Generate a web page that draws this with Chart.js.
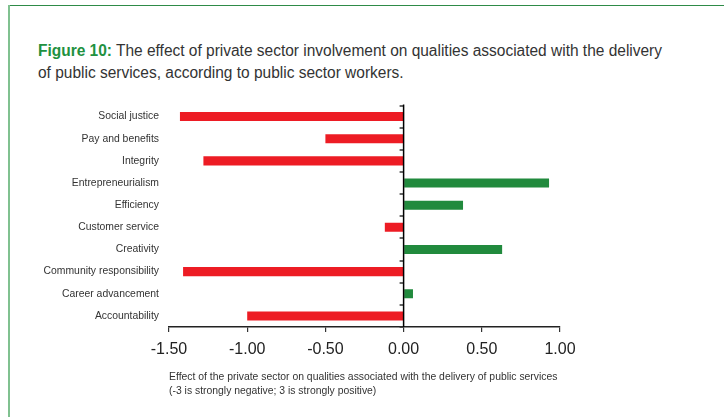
<!DOCTYPE html>
<html>
<head>
<meta charset="utf-8">
<script src="https://cdn.jsdelivr.net/npm/chart.js@4.4.1/dist/chart.umd.min.js"></script>
<style>
  html, body { margin: 0; padding: 0; background: #fff; }
  #wrap { position: relative; width: 724px; height: 417px; overflow: hidden; background: #fff; }
  #topline { position: absolute; left: 8px; top: 5px; width: 716px; height: 1px; background: #2e8b47; }
  #leftline { position: absolute; left: 8px; top: 5px; width: 2px; height: 412px; background: #80c190; }
  #title { position: absolute; left: 38px; top: 40px; font-family: "Liberation Sans", sans-serif; font-size: 16px; line-height: 22px; color: #333; white-space: nowrap; transform-origin: 0 0; }
  #title b { color: #21913f; font-weight: bold; }
  canvas { position: absolute; left: 0; top: 0; }
</style>
</head>
<body>
<div id="wrap">
  <div id="topline"></div>
  <div id="leftline"></div>
  <div id="title"><span id="t1"><b>Figure 10:</b> The effect of private sector involvement on qualities associated with the delivery</span><br>of public services, according to public sector workers.</div>
  <canvas id="c" width="724" height="417"></canvas>
</div>
<script>
const categories = ["Social justice", "Pay and benefits", "Integrity", "Entrepreneurialism", "Efficiency", "Customer service", "Creativity", "Community responsibility", "Career advancement", "Accountability"];
const values = [-1.43, -0.50, -1.28, 0.93, 0.38, -0.12, 0.63, -1.41, 0.06, -1.00];
const xTicks = [-1.5, -1.0, -0.5, 0.0, 0.5, 1.0];
const axisTitle = ["Effect of the private sector on qualities associated with the delivery of public services", "(-3 is strongly negative; 3 is strongly positive)"];

const RED = "#ed1c24", GREEN = "#218a3d";

// fit the heading's first line to the reference width
(function () {
  const w = document.getElementById("t1").getBoundingClientRect().width;
  document.getElementById("title").style.transform = "scaleX(" + (624 / w) + ")";
})();

const zeroAxisPlugin = {
  id: "zeroAxis",
  afterDatasetsDraw(chart) {
    const { ctx, chartArea } = chart;
    const xs = chart.scales.x, ys = chart.scales.y;
    const x0 = xs.getPixelForValue(0);
    ctx.save();
    ctx.strokeStyle = "#333";
    ctx.lineWidth = 1.5;
    for (let i = 0; i <= categories.length; i++) {
      const y = Math.round(ys.getPixelForValue(i - 0.5));
      ctx.beginPath();
      ctx.moveTo(x0 - 4, y);
      ctx.lineTo(x0, y);
      ctx.stroke();
    }
    ctx.strokeStyle = "#000";
    ctx.lineWidth = 1.5;
    ctx.beginPath();
    ctx.moveTo(x0, chartArea.top - 1);
    ctx.lineTo(x0, chartArea.bottom);
    ctx.stroke();
    ctx.restore();
  }
};

new Chart(document.getElementById("c"), {
  type: "bar",
  data: {
    labels: categories,
    datasets: [{
      data: values,
      backgroundColor: values.map(v => v < 0 ? RED : GREEN),
      borderWidth: 0,
      barPercentage: 0.41,
      categoryPercentage: 1.0
    }]
  },
  options: {
    indexAxis: "y",
    responsive: false,
    animation: false,
    events: [],
    layout: { padding: { top: 105.5, left: 0, right: 164, bottom: 19 } },
    plugins: { legend: { display: false }, tooltip: { enabled: false }, title: { display: false } },
    scales: {
      x: {
        type: "linear",
        min: -1.5,
        max: 1.0,
        afterBuildTicks(scale) { scale.ticks = xTicks.map(v => ({ value: v })); },
        afterFit(scale) { scale.height = 417 - 19 - 327; },
        ticks: {
          color: "#222",
          font: { family: "Liberation Sans", size: 16 },
          padding: 8,
          callback: v => Number(v).toFixed(2)
        },
        grid: { display: true, drawOnChartArea: false, drawTicks: true, tickLength: 5, color: "#333", lineWidth: 1.2 },
        border: { display: true, color: "#222", width: 1.5 },
        title: {
          display: true,
          text: axisTitle,
          align: "start",
          color: "#333",
          font: { family: "Liberation Sans", size: 10.4, lineHeight: 1.33 },
          padding: { top: 0, bottom: 0 }
        }
      },
      y: {
        type: "category",
        afterFit(scale) { scale.width = 169; },
        ticks: {
          color: "#333",
          font: { family: "Liberation Sans", size: 10.4 },
          padding: 2
        },
        grid: { display: false },
        border: { display: false }
      }
    }
  },
  plugins: [zeroAxisPlugin]
});
</script>
</body>
</html>
